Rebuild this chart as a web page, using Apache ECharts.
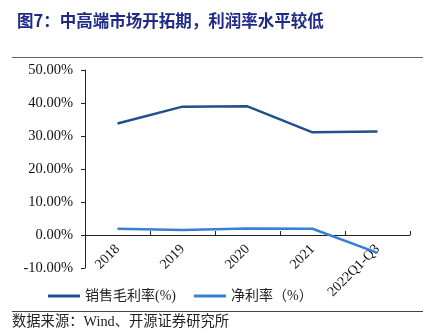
<!DOCTYPE html>
<html><head><meta charset="utf-8">
<script src="https://cdn.jsdelivr.net/npm/echarts@6/dist/echarts.min.js"></script>
<style>html,body{margin:0;padding:0;background:#fff}#c{width:434px;height:335px}</style>
</head><body><div id="c"></div>
<script>
var categories = ['2018', '2019', '2020', '2021', '2022Q1-Q3'];
var grossMargin = [33.8, 38.9, 39.0, 31.1, 31.4];
var netMargin = [1.9, 1.5, 2.0, 1.9, -5.4];
var seriesNames = ['销售毛利率(%)', '净利率（%）'];
var titleText = '图7：中高端市场开拓期，利润率水平较低';
var sourceText = '数据来源：Wind、开源证券研究所';

var serif = '"Liberation Serif","Noto Sans CJK SC",serif';
var chart = echarts.init(document.getElementById('c'), null, {renderer: 'canvas'});
chart.setOption({
  animation: false,
  title: {
    text: titleText, left: 12, top: 7,
    textStyle: {color: '#1f2a86', fontSize: 16.5, fontWeight: 'bold', fontFamily: '"Noto Sans CJK SC",sans-serif'}
  },
  graphic: [
    {type: 'line', shape: {x1: 12, y1: 57.5, x2: 423, y2: 57.5}, style: {stroke: '#666', lineWidth: 1}},
    {type: 'line', shape: {x1: 12, y1: 311.5, x2: 423, y2: 311.5}, style: {stroke: '#444', lineWidth: 1}},
    {type: 'text', left: 12, top: 315, style: {text: sourceText, fill: '#222', font: '14.3px "Liberation Serif","Noto Sans CJK SC",serif'}}
  ],
  legend: {
    left: 43, top: 284, itemWidth: 32, itemHeight: 3, itemGap: 18, icon: 'rect',
    textStyle: {fontSize: 14, color: '#222', fontFamily: serif},
    data: seriesNames
  },
  grid: {left: 85, right: 24, top: 70, bottom: 67},
  xAxis: {
    type: 'category', data: categories, boundaryGap: true,
    axisLine: {onZero: true, lineStyle: {color: '#222', width: 1}},
    axisTick: {show: true, inside: true, length: 4, lineStyle: {color: '#222'}},
    axisLabel: {rotate: 45, margin: -21, color: '#111', fontSize: 14, fontFamily: serif, interval: 0}
  },
  yAxis: {
    type: 'value', min: -10, max: 50, interval: 10,
    axisLine: {show: true, lineStyle: {color: '#222', width: 1}},
    axisTick: {show: true, length: 4, lineStyle: {color: '#222'}},
    splitLine: {show: false},
    axisLabel: {margin: 12, color: '#111', fontSize: 14.5, fontFamily: serif,
      formatter: function (v) { return v.toFixed(2) + '%'; }}
  },
  series: [
    {name: seriesNames[0], type: 'line', data: grossMargin, symbol: 'none',
      lineStyle: {color: '#22508e', width: 2.5}, itemStyle: {color: '#22508e'}},
    {name: seriesNames[1], type: 'line', data: netMargin, symbol: 'none',
      lineStyle: {color: '#3a7fd6', width: 2.5}, itemStyle: {color: '#3a7fd6'}}
  ]
});
</script></body></html>
